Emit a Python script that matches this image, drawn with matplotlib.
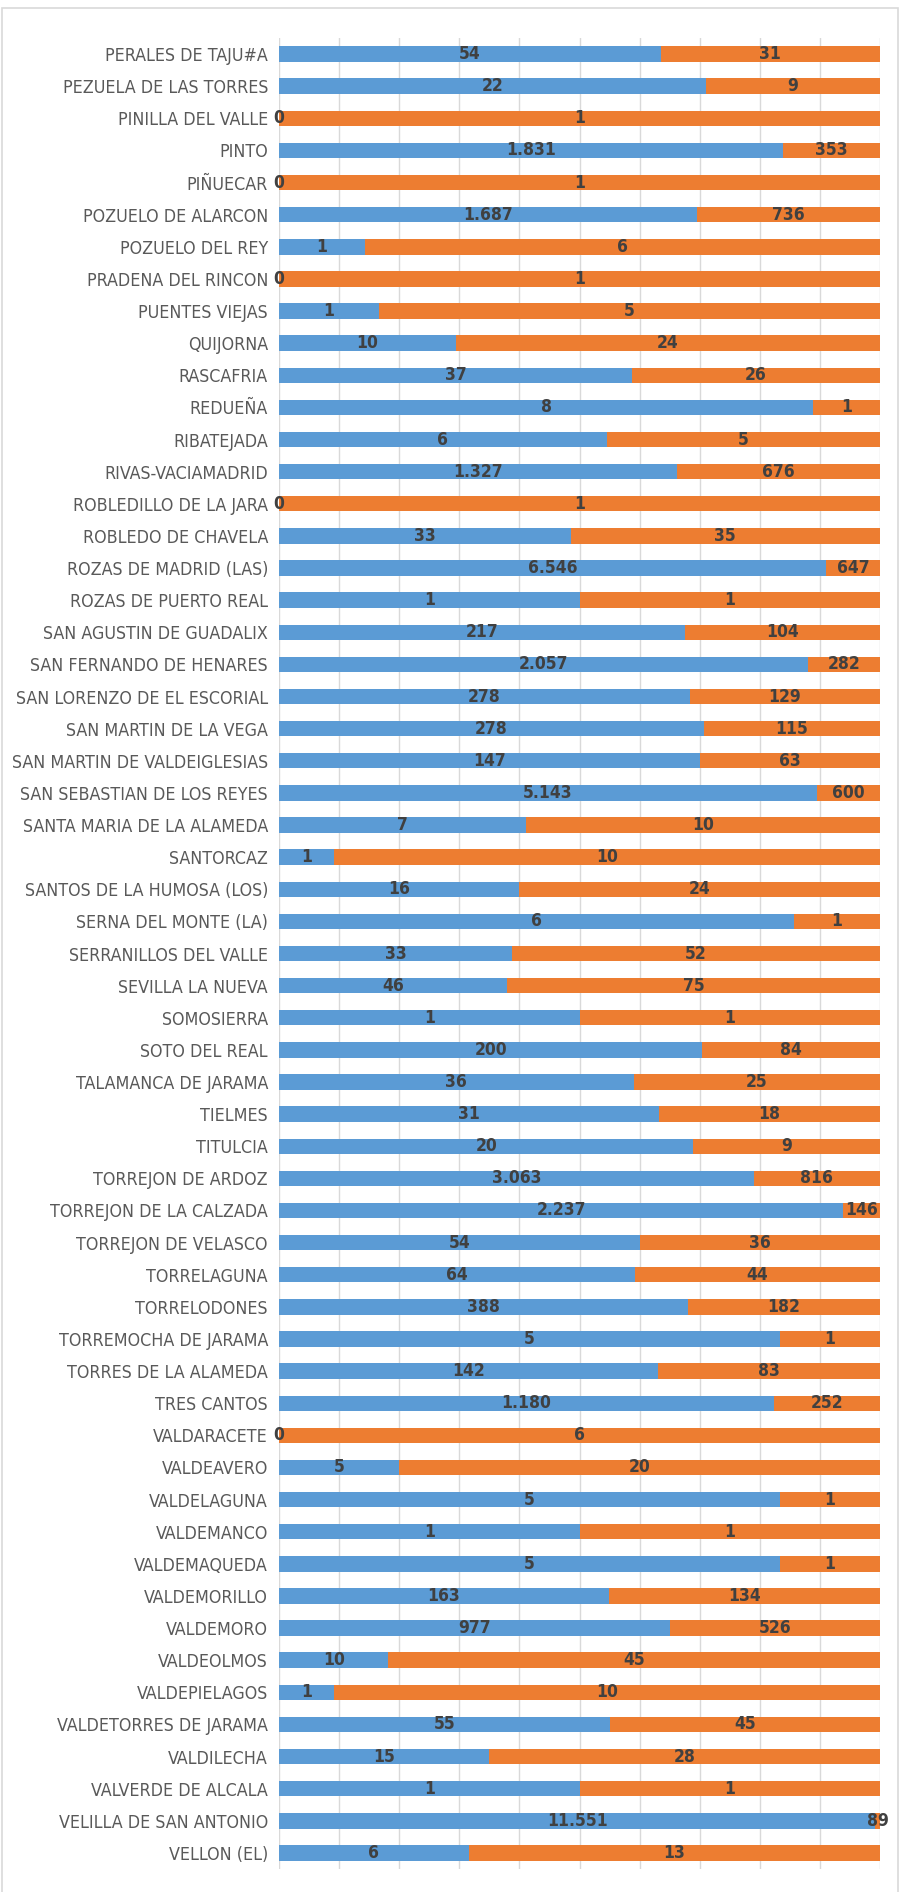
import numpy as np
import matplotlib
matplotlib.use('Agg')
import matplotlib.pyplot as plt
from matplotlib.patches import Rectangle

plt.rcParams['font.family'] = ['DejaVu Sans']
plt.rcParams['font.stretch'] = 'condensed'

municipios = [
    'PERALES DE TAJU#A', 'PEZUELA DE LAS TORRES', 'PINILLA DEL VALLE', 'PINTO',
    'PIÑUECAR', 'POZUELO DE ALARCON', 'POZUELO DEL REY', 'PRADENA DEL RINCON',
    'PUENTES VIEJAS', 'QUIJORNA', 'RASCAFRIA', 'REDUEÑA', 'RIBATEJADA',
    'RIVAS-VACIAMADRID', 'ROBLEDILLO DE LA JARA', 'ROBLEDO DE CHAVELA',
    'ROZAS DE MADRID (LAS)', 'ROZAS DE PUERTO REAL', 'SAN AGUSTIN DE GUADALIX',
    'SAN FERNANDO DE HENARES', 'SAN LORENZO DE EL ESCORIAL', 'SAN MARTIN DE LA VEGA',
    'SAN MARTIN DE VALDEIGLESIAS', 'SAN SEBASTIAN DE LOS REYES',
    'SANTA MARIA DE LA ALAMEDA', 'SANTORCAZ', 'SANTOS DE LA HUMOSA (LOS)',
    'SERNA DEL MONTE (LA)', 'SERRANILLOS DEL VALLE', 'SEVILLA LA NUEVA',
    'SOMOSIERRA', 'SOTO DEL REAL', 'TALAMANCA DE JARAMA', 'TIELMES', 'TITULCIA',
    'TORREJON DE ARDOZ', 'TORREJON DE LA CALZADA', 'TORREJON DE VELASCO',
    'TORRELAGUNA', 'TORRELODONES', 'TORREMOCHA DE JARAMA', 'TORRES DE LA ALAMEDA',
    'TRES CANTOS', 'VALDARACETE', 'VALDEAVERO', 'VALDELAGUNA', 'VALDEMANCO',
    'VALDEMAQUEDA', 'VALDEMORILLO', 'VALDEMORO', 'VALDEOLMOS', 'VALDEPIELAGOS',
    'VALDETORRES DE JARAMA', 'VALDILECHA', 'VALVERDE DE ALCALA',
    'VELILLA DE SAN ANTONIO', 'VELLON (EL)',
]

serie_azul = [
    54, 22, 0, 1831, 0, 1687, 1, 0, 1, 10, 37, 8, 6, 1327, 0, 33, 6546, 1, 217,
    2057, 278, 278, 147, 5143, 7, 1, 16, 6, 33, 46, 1, 200, 36, 31, 20, 3063,
    2237, 54, 64, 388, 5, 142, 1180, 0, 5, 5, 1, 5, 163, 977, 10, 1, 55, 15, 1,
    11551, 6,
]

serie_naranja = [
    31, 9, 1, 353, 1, 736, 6, 1, 5, 24, 26, 1, 5, 676, 1, 35, 647, 1, 104,
    282, 129, 115, 63, 600, 10, 10, 24, 1, 52, 75, 1, 84, 25, 18, 9, 816,
    146, 36, 44, 182, 1, 83, 252, 6, 20, 1, 1, 1, 134, 526, 45, 10, 45, 28, 1,
    89, 13,
]


def fmt_es(v):
    return '{:,}'.format(v).replace(',', '.')


azul = np.array(serie_azul, dtype=float)
naranja = np.array(serie_naranja, dtype=float)
total = azul + naranja
p_azul = azul / total
p_nar = naranja / total

fig = plt.figure(figsize=(9, 18.92), dpi=100)
ax = fig.add_axes([279 / 900, 1 - 1869 / 1892, 601 / 900, (1869 - 38) / 1892])

y = np.arange(len(municipios))
h = 0.48
ax.barh(y, p_azul, height=h, color='#5B9BD5', zorder=2)
ax.barh(y, p_nar, left=p_azul, height=h, color='#ED7D31', zorder=2)

lab_kw = dict(ha='center', va='center', fontsize=12.5, fontweight='bold',
              color='#404040', zorder=3)
for i in range(len(municipios)):
    ax.text(p_azul[i] / 2, y[i], fmt_es(serie_azul[i]), **lab_kw)
    ax.text(p_azul[i] + p_nar[i] / 2, y[i], fmt_es(serie_naranja[i]), **lab_kw)

ax.set_xlim(0, 1)
ax.set_ylim(len(municipios) - 0.5, -0.5)
ax.set_xticks(np.arange(0, 1.01, 0.1))
ax.set_xticklabels([])
ax.grid(axis='x', color='#D9D9D9', linewidth=1, zorder=0)
ax.tick_params(axis='x', length=0)
ax.tick_params(axis='y', length=0, pad=8)
ax.set_yticks(y)
ax.set_yticklabels(municipios, fontsize=12.8, color='#595959')
for s in ax.spines.values():
    s.set_visible(False)

# marco del grafico
fig.patches.append(Rectangle((2 / 900, -0.01), 896 / 900, 1 - 8 / 1892 + 0.01,
                             transform=fig.transFigure, fill=False,
                             edgecolor='#D9D9D9', linewidth=1.2))

fig.savefig('out.png', dpi=100)
